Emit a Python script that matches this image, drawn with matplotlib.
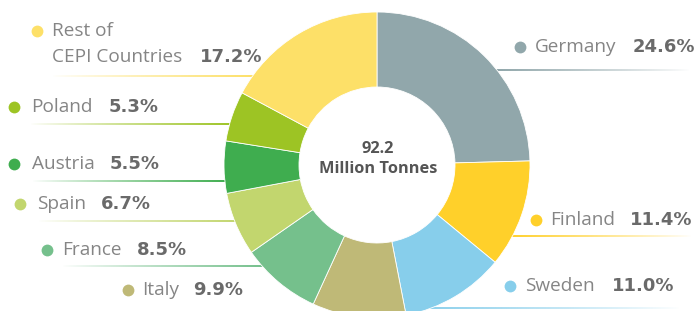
import numpy as np
import matplotlib
matplotlib.use("Agg")
import matplotlib.pyplot as plt
from matplotlib.colors import to_rgb

countries = ["Germany", "Finland", "Sweden", "Italy", "France", "Spain",
             "Austria", "Poland", "Rest of\nCEPI Countries"]
shares = [24.6, 11.4, 11.0, 9.9, 8.5, 6.7, 5.5, 5.3, 17.2]
pct_labels = ["24.6%", "11.4%", "11.0%", "9.9%", "8.5%", "6.7%", "5.5%", "5.3%", "17.2%"]
colors = ["#91a7ab", "#ffd02a", "#87ceeb", "#bfb977", "#75c08c", "#c2d66e",
          "#3fad4f", "#9dc424", "#fde068"]
total_label = "92.2"
unit_label = "Million Tonnes"

W, H = 699, 311
fig = plt.figure(figsize=(W / 100, H / 100), dpi=100)
ax = fig.add_axes([0, 0, 1, 1])

def Y(py):
    return H - py

cx, cy, R, ring = 377, Y(165), 153, 75

# layout: dot_x, text_y, name_x, pct_x, pct_y, line_y, line_x0, line_x1, solid_side
layout = [
    (520, 47, 535, 633, 47, 70, 496, 690, "left"),
    (536, 220, 550, 630, 220, 236, 505, 692, "left"),
    (510, 286, 525, 612, 286, 308, 410, 680, "left"),
    (128, 290, 142, 193, 290, None, None, None, None),
    (47, 250, 62, 137, 250, 266, 62, 265, "right"),
    (20, 204, 37, 101, 204, 221, 38, 240, "right"),
    (14, 164, 32, 110, 164, 181, 32, 230, "right"),
    (14, 107, 31, 109, 107, 124, 30, 235, "right"),
    (37, 31, 52, 200, 57, 76, 52, 255, "right"),
]

# gradient underlines (behind the donut)
for col, (dx, ty, nx, px, py, ly, x0, x1, side) in zip(colors, layout):
    if ly is None:
        continue
    n = 256
    alpha = np.linspace(0, 1, n) ** 0.85
    if side == "left":
        alpha = alpha[::-1]
    img = np.zeros((1, n, 4))
    img[..., :3] = to_rgb(col)
    img[..., 3] = alpha
    ax.imshow(img, extent=[x0, x1, Y(ly) - 1.0, Y(ly) + 1.0], aspect="auto",
              interpolation="bilinear", zorder=1)

ax.pie(shares, colors=colors, startangle=90, counterclock=False,
       center=(cx, cy), radius=R, frame=True,
       wedgeprops=dict(width=ring, edgecolor="white", linewidth=0.6))
for p in ax.patches:
    p.set_zorder(2)

name_color = "#858585"
pct_color = "#6a6a6a"
for name, pct, col, (dx, ty, nx, px, py, ly, x0, x1, side) in zip(countries, pct_labels, colors, layout):
    ax.plot([dx], [Y(ty)], "o", color=col, markersize=8.5, markeredgewidth=0, zorder=3)
    lines = name.split("\n")
    for i, ln in enumerate(lines):
        ax.text(nx, Y(ty + 26 * i), ln, fontsize=13.7, color=name_color, family="Open Sans",
                va="center", ha="left", zorder=3)
    ax.text(px, Y(py), pct, fontsize=13, color=pct_color, family="DejaVu Sans",
            fontweight="bold", va="center", ha="left", zorder=3)

ax.text(cx + 1, Y(149), total_label, fontsize=11.8, color="#555555", family="Open Sans",
        fontweight="bold", ha="center", va="center", zorder=3)
ax.text(cx + 1, Y(169), unit_label, fontsize=11.8, color="#555555", family="Open Sans",
        fontweight="bold", ha="center", va="center", zorder=3)

ax.set_xlim(0, W)
ax.set_ylim(0, H)
ax.set_aspect("equal")
ax.axis("off")
fig.savefig("out.png", dpi=100)
